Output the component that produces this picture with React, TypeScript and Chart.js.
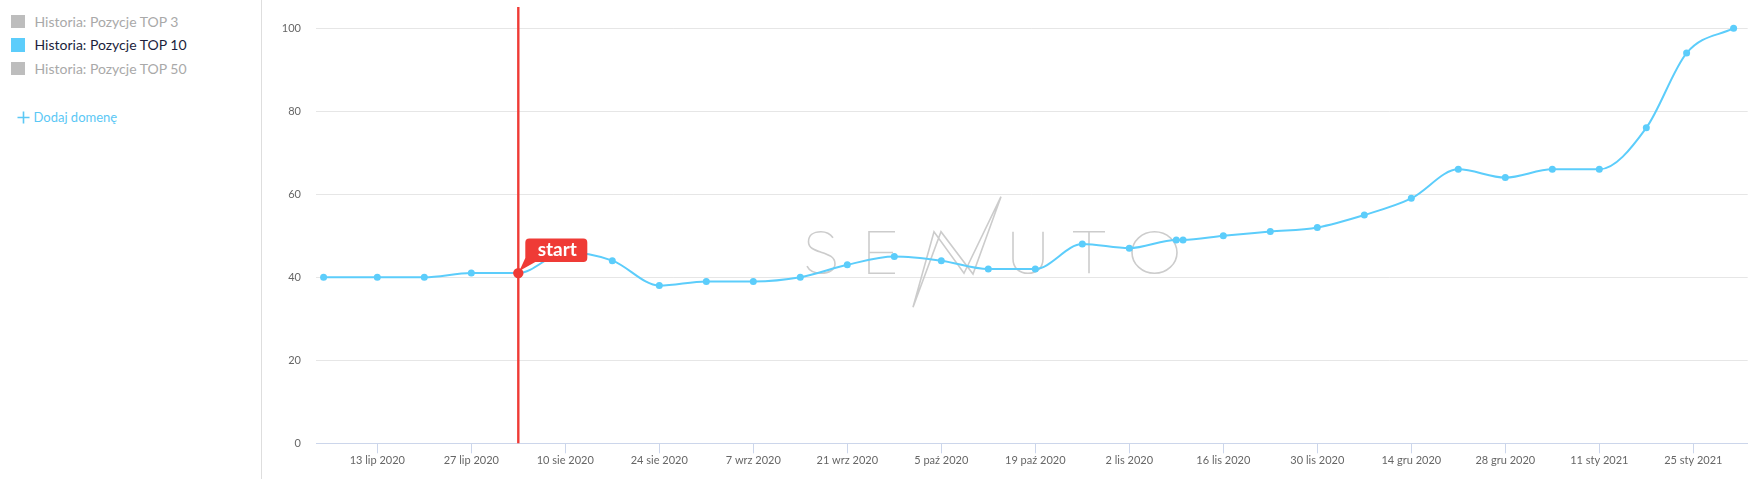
import React, { useEffect, useRef } from "react";
import { Chart, registerables } from "chart.js";

Chart.register(...registerables);

// ---- data ----
const BASE_DATE = "2020-07-13";
const pointDates = [
  "2020-07-05", "2020-07-13", "2020-07-20", "2020-07-27", "2020-08-03", "2020-08-10",
  "2020-08-17", "2020-08-24", "2020-08-31", "2020-09-07", "2020-09-14", "2020-09-21",
  "2020-09-28", "2020-10-05", "2020-10-12", "2020-10-19", "2020-10-26", "2020-11-02",
  "2020-11-09", "2020-11-10", "2020-11-16", "2020-11-23", "2020-11-30", "2020-12-07",
  "2020-12-14", "2020-12-21", "2020-12-28", "2021-01-04", "2021-01-11", "2021-01-18",
  "2021-01-24", "2021-01-31",
];
const top10Values = [
  40, 40, 40, 41, 41, 46, 44, 38, 39, 39, 40, 43, 45, 44, 42, 42, 48, 47, 49, 49, 50,
  51, 52, 55, 59, 66, 64, 66, 66, 76, 94, 100,
];
const tickDates = [
  "2020-07-13", "2020-07-27", "2020-08-10", "2020-08-24", "2020-09-07", "2020-09-21",
  "2020-10-05", "2020-10-19", "2020-11-02", "2020-11-16", "2020-11-30", "2020-12-14",
  "2020-12-28", "2021-01-11", "2021-01-25",
];
const tickLabels = [
  "13 lip 2020", "27 lip 2020", "10 sie 2020", "24 sie 2020", "7 wrz 2020", "21 wrz 2020",
  "5 paź 2020", "19 paź 2020", "2 lis 2020", "16 lis 2020", "30 lis 2020", "14 gru 2020",
  "28 gru 2020", "11 sty 2021", "25 sty 2021",
];
const yTicks = [0, 20, 40, 60, 80, 100];
const startDate = "2020-08-03";
const startLabel = "start";
const legendItems = ["Historia: Pozycje TOP 3", "Historia: Pozycje TOP 10", "Historia: Pozycje TOP 50"];
const legendActive = [false, true, false];
const addDomainLabel = "Dodaj domenę";

// ---- styles ----
const LINE = "#5ccdfb";
const RED = "#ef3b36";
const FONT = "Lato, 'Open Sans', sans-serif";

export default function App() {
  const ref = useRef<HTMLCanvasElement>(null);

  useEffect(() => {
    const canvas = ref.current;
    if (!canvas) return;
    const toDay = (s: string) => (Date.parse(s) - Date.parse(BASE_DATE)) / 86400000;
    const points = pointDates.map((d, i) => ({ x: toDay(d), y: top10Values[i] }));
    const tickDays = tickDates.map(toDay);
    const startX = toDay(startDate);
    const startY = top10Values[pointDates.indexOf(startDate)];

    const watermark = {
      id: "watermark",
      beforeDatasetsDraw(chart: any) {
        const c = chart.ctx;
        const a = chart.chartArea;
        const ox = a.left + 491; // S left
        const oy = a.top + 224.7; // cap top
        const h = 41.6;
        c.save();
        c.strokeStyle = "#cccccc";
        c.lineWidth = 1.6;
        c.lineJoin = "miter";
        c.lineCap = "butt";
        // S
        const sx = ox;
        c.beginPath();
        c.moveTo(sx + 26, oy + 6);
        c.bezierCurveTo(sx + 23, oy + 1.8, sx + 19, oy, sx + 14, oy);
        c.bezierCurveTo(sx + 6, oy, sx + 1.5, oy + 4, sx + 1.5, oy + 10);
        c.bezierCurveTo(sx + 1.5, oy + 16.5, sx + 8, oy + 18.5, sx + 14, oy + 20.5);
        c.bezierCurveTo(sx + 22, oy + 23, sx + 28, oy + 25.5, sx + 28, oy + 32);
        c.bezierCurveTo(sx + 28, oy + 38, sx + 22, oy + h, sx + 14, oy + h);
        c.bezierCurveTo(sx + 7, oy + h, sx + 2, oy + 38.5, sx, oy + 34.5);
        c.stroke();
        // E
        const ex = ox + 62;
        c.beginPath();
        c.moveTo(ex + 26, oy);
        c.lineTo(ex, oy);
        c.lineTo(ex, oy + h);
        c.lineTo(ex + 26, oy + h);
        c.moveTo(ex, oy + h / 2);
        c.lineTo(ex + 24, oy + h / 2);
        c.stroke();
        // N (lightning)
        c.beginPath();
        c.moveTo(ox + 106, oy + 75.6);
        c.lineTo(ox + 127, oy);
        c.lineTo(ox + 157, oy + 41.6);
        c.lineTo(ox + 194, oy - 35);
        c.lineTo(ox + 166, oy + 42.3);
        c.lineTo(ox + 134, oy);
        c.closePath();
        c.stroke();
        // U
        const ux = ox + 206;
        c.beginPath();
        c.moveTo(ux, oy);
        c.lineTo(ux, oy + 27);
        c.bezierCurveTo(ux, oy + 36, ux + 6, oy + h, ux + 15, oy + h);
        c.bezierCurveTo(ux + 24, oy + h, ux + 30, oy + 36, ux + 30, oy + 27);
        c.lineTo(ux + 30, oy);
        c.stroke();
        // T
        const tx = ox + 266;
        c.beginPath();
        c.moveTo(tx, oy);
        c.lineTo(tx + 32, oy);
        c.moveTo(tx + 16, oy);
        c.lineTo(tx + 16, oy + h);
        c.stroke();
        // O
        c.beginPath();
        c.ellipse(ox + 347.5, oy + h / 2, 22.5, h / 2, 0, 0, Math.PI * 2);
        c.stroke();
        c.restore();
      },
    };

    const startMarker = {
      id: "startMarker",
      afterDatasetsDraw(chart: any) {
        const c = chart.ctx;
        const a = chart.chartArea;
        const xs = chart.scales.x;
        const ys = chart.scales.y;
        const px = xs.getPixelForValue(startX);
        const py = ys.getPixelForValue(startY);
        c.save();
        c.strokeStyle = RED;
        c.lineWidth = 2.4;
        c.beginPath();
        c.moveTo(px, a.top);
        c.lineTo(px, a.bottom);
        c.stroke();
        c.fillStyle = RED;
        c.beginPath();
        c.arc(px, py, 5.2, 0, Math.PI * 2);
        c.fill();
        // label box
        const l = px + 7, r = px + 69, t = py - 34.5, b = py - 11, rad = 4;
        c.beginPath();
        c.moveTo(l + rad, t);
        c.lineTo(r - rad, t);
        c.quadraticCurveTo(r, t, r, t + rad);
        c.lineTo(r, b - rad);
        c.quadraticCurveTo(r, b, r - rad, b);
        c.lineTo(l + 10, b);
        c.lineTo(px + 1, py - 2);
        c.lineTo(l, b - 4);
        c.lineTo(l, t + rad);
        c.quadraticCurveTo(l, t, l + rad, t);
        c.closePath();
        c.fill();
        c.fillStyle = "#ffffff";
        c.font = `bold 19px ${FONT}`;
        c.textAlign = "center";
        c.textBaseline = "middle";
        c.fillText(startLabel, (l + r) / 2 + 1, (t + b) / 2);
        c.restore();
      },
    };

    Chart.defaults.font.family = FONT;

    const chart = new Chart(canvas, {
      type: "line",
      data: {
        datasets: [
          {
            label: legendItems[1],
            data: points,
            borderColor: LINE,
            backgroundColor: LINE,
            borderWidth: 2,
            pointRadius: 3.5,
            pointBorderWidth: 0,
            pointBackgroundColor: LINE,
            cubicInterpolationMode: "monotone",
            tension: 0.4,
            fill: false,
          },
        ],
      },
      options: {
        animation: false,
        responsive: false,
        layout: { padding: { left: 262, right: 15.3, top: 7, bottom: 0 } },
        plugins: { legend: { display: false }, tooltip: { enabled: false } },
        scales: {
          x: {
            type: "linear",
            min: -9.13,
            max: 204.1,
            afterFit: (s: any) => {
              s.height = 35.7;
            },
            afterBuildTicks: (s: any) => {
              s.ticks = tickDays.map((v) => ({ value: v }));
            },
            ticks: {
              callback: (_v: any, i: number) => tickLabels[i] ?? "",
              autoSkip: false,
              maxRotation: 0,
              minRotation: 0,
              padding: 1,
              color: "#666666",
              font: { family: FONT, size: 11 },
            },
            grid: { drawOnChartArea: false, drawTicks: true, tickLength: 10, color: "#ccd6eb" },
            border: { display: true, color: "#ccd6eb", width: 1 },
          },
          y: {
            min: 0,
            max: 105.1,
            afterFit: (s: any) => {
              s.width = 54;
            },
            afterBuildTicks: (s: any) => {
              s.ticks = yTicks.map((v) => ({ value: v }));
            },
            ticks: {
              padding: 0,
              color: "#666666",
              font: { family: FONT, size: 11 },
            },
            grid: { color: "#e6e6e6", drawTicks: true, tickLength: 15, tickColor: "rgba(0,0,0,0)" },
            border: { display: false },
          },
        },
      },
      plugins: [watermark, startMarker],
    } as any);
    return () => chart.destroy();
  }, []);

  return (
    <div
      style={{
        position: "absolute",
        left: 0,
        top: 0,
        width: 1763,
        height: 479,
        background: "#ffffff",
        fontFamily: FONT,
        overflow: "hidden",
      }}
    >
      <div
        style={{
          position: "absolute",
          left: 261,
          top: 0,
          width: 1,
          height: 479,
          background: "#dedede",
        }}
      />
      {legendItems.map((name, i) => (
        <div
          key={name}
          style={{
            position: "absolute",
            left: 11,
            top: 11.5 + i * 23.4,
            height: 20,
            display: "flex",
            alignItems: "center",
            fontSize: 14,
            color: legendActive[i] ? "#1c1f3d" : "#a9a9a9",
            whiteSpace: "nowrap",
          }}
        >
          <span
            style={{
              display: "inline-block",
              width: 13.5,
              height: 13.5,
              background: legendActive[i] ? LINE : "#bdbdbd",
              marginRight: 10,
            }}
          />
          {name}
        </div>
      ))}
      <div
        style={{
          position: "absolute",
          left: 16.5,
          top: 107,
          height: 20,
          display: "flex",
          alignItems: "center",
          fontSize: 13,
          color: "#5bc8f5",
          whiteSpace: "nowrap",
        }}
      >
        <svg width="13" height="13" style={{ marginRight: 4 }}>
          <path d="M6.5 0.5 V12.5 M0.5 6.5 H12.5" stroke="#5bc8f5" strokeWidth="1.6" fill="none" />
        </svg>
        {addDomainLabel}
      </div>
      <canvas
        ref={ref}
        width={1763}
        height={479}
        style={{ position: "absolute", left: 0, top: 0, width: 1763, height: 479 }}
      />
    </div>
  );
}
